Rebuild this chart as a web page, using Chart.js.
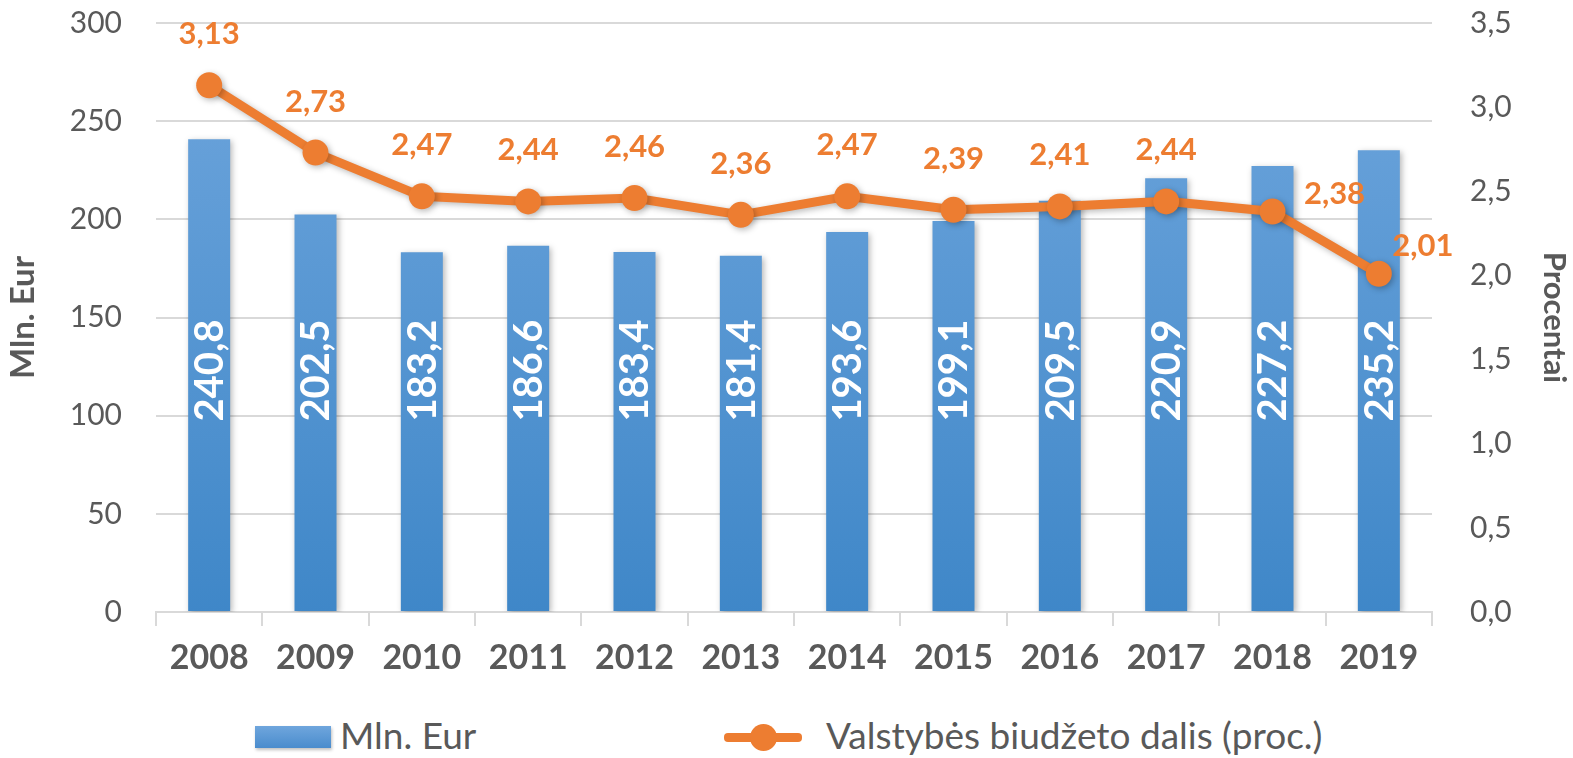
<!DOCTYPE html>
<html>
<head>
<meta charset="utf-8">
<script src="https://cdn.jsdelivr.net/npm/chart.js@4"></script>
<style>
  html, body { margin: 0; padding: 0; background: #fff; overflow: hidden; }
  #wrap { position: relative; width: 1573px; height: 758px; overflow: hidden; }
  #box { position: absolute; left: 0; top: -33px; width: 1573px; height: 733px; }
  .legend { position: absolute; top: 712px; font-family: Lato, "Open Sans", sans-serif; font-size: 37px; color: #595959; }
  .leg-bar { position: absolute; left: 255px; top: 14px; width: 76px; height: 22px; background: linear-gradient(#6fa6dd, #4a8ccd); box-shadow: 1px 2px 3px rgba(0,0,0,0.25); }
  .leg-line { position: absolute; top: 21px; width: 78px; height: 9px; background: #ed7d31; border-radius: 4px; }
  .leg-dot { position: absolute; top: 12px; width: 27px; height: 27px; border-radius: 50%; background: #ed7d31; }
</style>
</head>
<body>
<div id="wrap">
  <div id="box"><canvas id="chart"></canvas></div>
  <div class="legend" style="left:0;width:700px;height:48px;">
    <div class="leg-bar"></div>
    <span style="position:absolute;left:340px;top:0;">Mln. Eur</span>
  </div>
  <div class="legend" style="left:0;width:1573px;height:48px;">
    <div class="leg-line" style="left:724px;"></div>
    <div class="leg-dot" style="left:750px;"></div>
    <span style="position:absolute;left:826px;top:0;">Valstybės biudžeto dalis (proc.)</span>
  </div>
</div>
<script>
// duomenys
const years = ['2008', '2009', '2010', '2011', '2012', '2013', '2014', '2015', '2016', '2017', '2018', '2019'];
const mlnEur = [240.8, 202.5, 183.2, 186.6, 183.4, 181.4, 193.6, 199.1, 209.5, 220.9, 227.2, 235.2];
const budgetShare = [3.13, 2.73, 2.47, 2.44, 2.46, 2.36, 2.47, 2.39, 2.41, 2.44, 2.38, 2.01];

const FONT = 'Lato, "Open Sans", sans-serif';
const GREY = '#595959';
const ORANGE = '#ed7d31';

function fmt(v, d) {
    return v.toFixed(d).replace('.', ',');
}

// šešėliai stulpeliams ir linijai
const shadowPlugin = {
    id: 'shadow',
    beforeDatasetDraw(chart) {
        const c = chart.ctx;
        c.save();
        c.shadowColor = 'rgba(0,0,0,0.28)';
        c.shadowBlur = 6;
        c.shadowOffsetX = 2;
        c.shadowOffsetY = 2;
    },
    afterDatasetDraw(chart) {
        chart.ctx.restore();
    }
};

// reikšmių užrašai ant stulpelių ir taškų
const labelPlugin = {
    id: 'labels',
    afterDatasetsDraw(chart) {
        const ctx = chart.ctx;
        const y = chart.scales.y;
        const bars = chart.getDatasetMeta(0).data;
        const pts = chart.getDatasetMeta(1).data;
        ctx.save();
        ctx.font = 'bold 40px ' + FONT;
        ctx.fillStyle = '#fff';
        ctx.textAlign = 'center';
        ctx.textBaseline = 'middle';
        bars.forEach((b, i) => {
            ctx.save();
            ctx.translate(b.x + 1, y.getPixelForValue(123));
            ctx.rotate(-Math.PI / 2);
            ctx.fillText(fmt(mlnEur[i], 1), 0, 0);
            ctx.restore();
        });
        ctx.font = 'bold 31px ' + FONT;
        ctx.fillStyle = ORANGE;
        pts.forEach((p, i) => {
            const t = fmt(budgetShare[i], 2);
            if (i === 10) {
                ctx.fillText(t, p.x + 62, p.y - 17);
            } else if (i === 11) {
                ctx.fillText(t, p.x + 44, p.y - 28);
            } else {
                ctx.fillText(t, p.x, p.y - 51);
            }
        });
        ctx.restore();
    }
};

function barGradient(context) {
    const area = context.chart.chartArea;
    if (!area) return '#5b9bd5';
    const g = context.chart.ctx.createLinearGradient(0, area.top, 0, area.bottom);
    g.addColorStop(0, '#6fa6dd');
    g.addColorStop(1, '#3f87c8');
    return g;
}

new Chart(document.getElementById('chart'), {
    data: {
        labels: years,
        datasets: [
            {
                type: 'bar',
                label: 'Mln. Eur',
                data: mlnEur,
                backgroundColor: barGradient,
                yAxisID: 'y',
                barPercentage: 0.395,
                categoryPercentage: 1,
                order: 2
            },
            {
                type: 'line',
                label: 'Valstybės biudžeto dalis (proc.)',
                data: budgetShare,
                borderColor: ORANGE,
                backgroundColor: ORANGE,
                borderWidth: 9,
                pointRadius: 13,
                pointBorderWidth: 0,
                tension: 0,
                yAxisID: 'y1',
                order: 1
            }
        ]
    },
    options: {
        responsive: true,
        maintainAspectRatio: false,
        animation: false,
        layout: { padding: { top: 23, left: 0, right: 0, bottom: 0 } },
        plugins: {
            legend: { display: false },
            tooltip: { enabled: false }
        },
        scales: {
            x: {
                offset: true,
                grid: { offset: true, drawOnChartArea: false, color: '#d9d9d9', lineWidth: 2, tickLength: 14 },
                border: { color: '#d9d9d9', width: 2 },
                ticks: { color: GREY, font: { family: FONT, size: 34, weight: 'bold' }, padding: 12 },
                afterFit(s) { s.height = 88; }
            },
            y: {
                position: 'left',
                min: 0, max: 300,
                ticks: { stepSize: 50, color: GREY, font: { family: FONT, size: 30 }, padding: 34 },
                grid: { color: '#d9d9d9', lineWidth: 2, drawTicks: false },
                border: { display: false },
                title: { display: true, text: 'Mln. Eur', color: GREY, font: { family: FONT, size: 33, weight: 'bold' }, padding: { top: 4, bottom: 0 } },
                afterFit(s) { s.width = 156; }
            },
            y1: {
                position: 'right',
                min: 0, max: 3.5,
                ticks: { stepSize: 0.5, color: GREY, font: { family: FONT, size: 30 }, padding: 38, callback: v => fmt(v, 1) },
                grid: { drawOnChartArea: false, drawTicks: false },
                border: { display: false },
                title: { display: true, text: 'Procentai', color: GREY, font: { family: FONT, size: 31, weight: 'bold' }, padding: { top: 0, bottom: 4 } },
                afterFit(s) { s.width = 141; }
            }
        }
    },
    plugins: [shadowPlugin, labelPlugin]
});
</script>
</body>
</html>
